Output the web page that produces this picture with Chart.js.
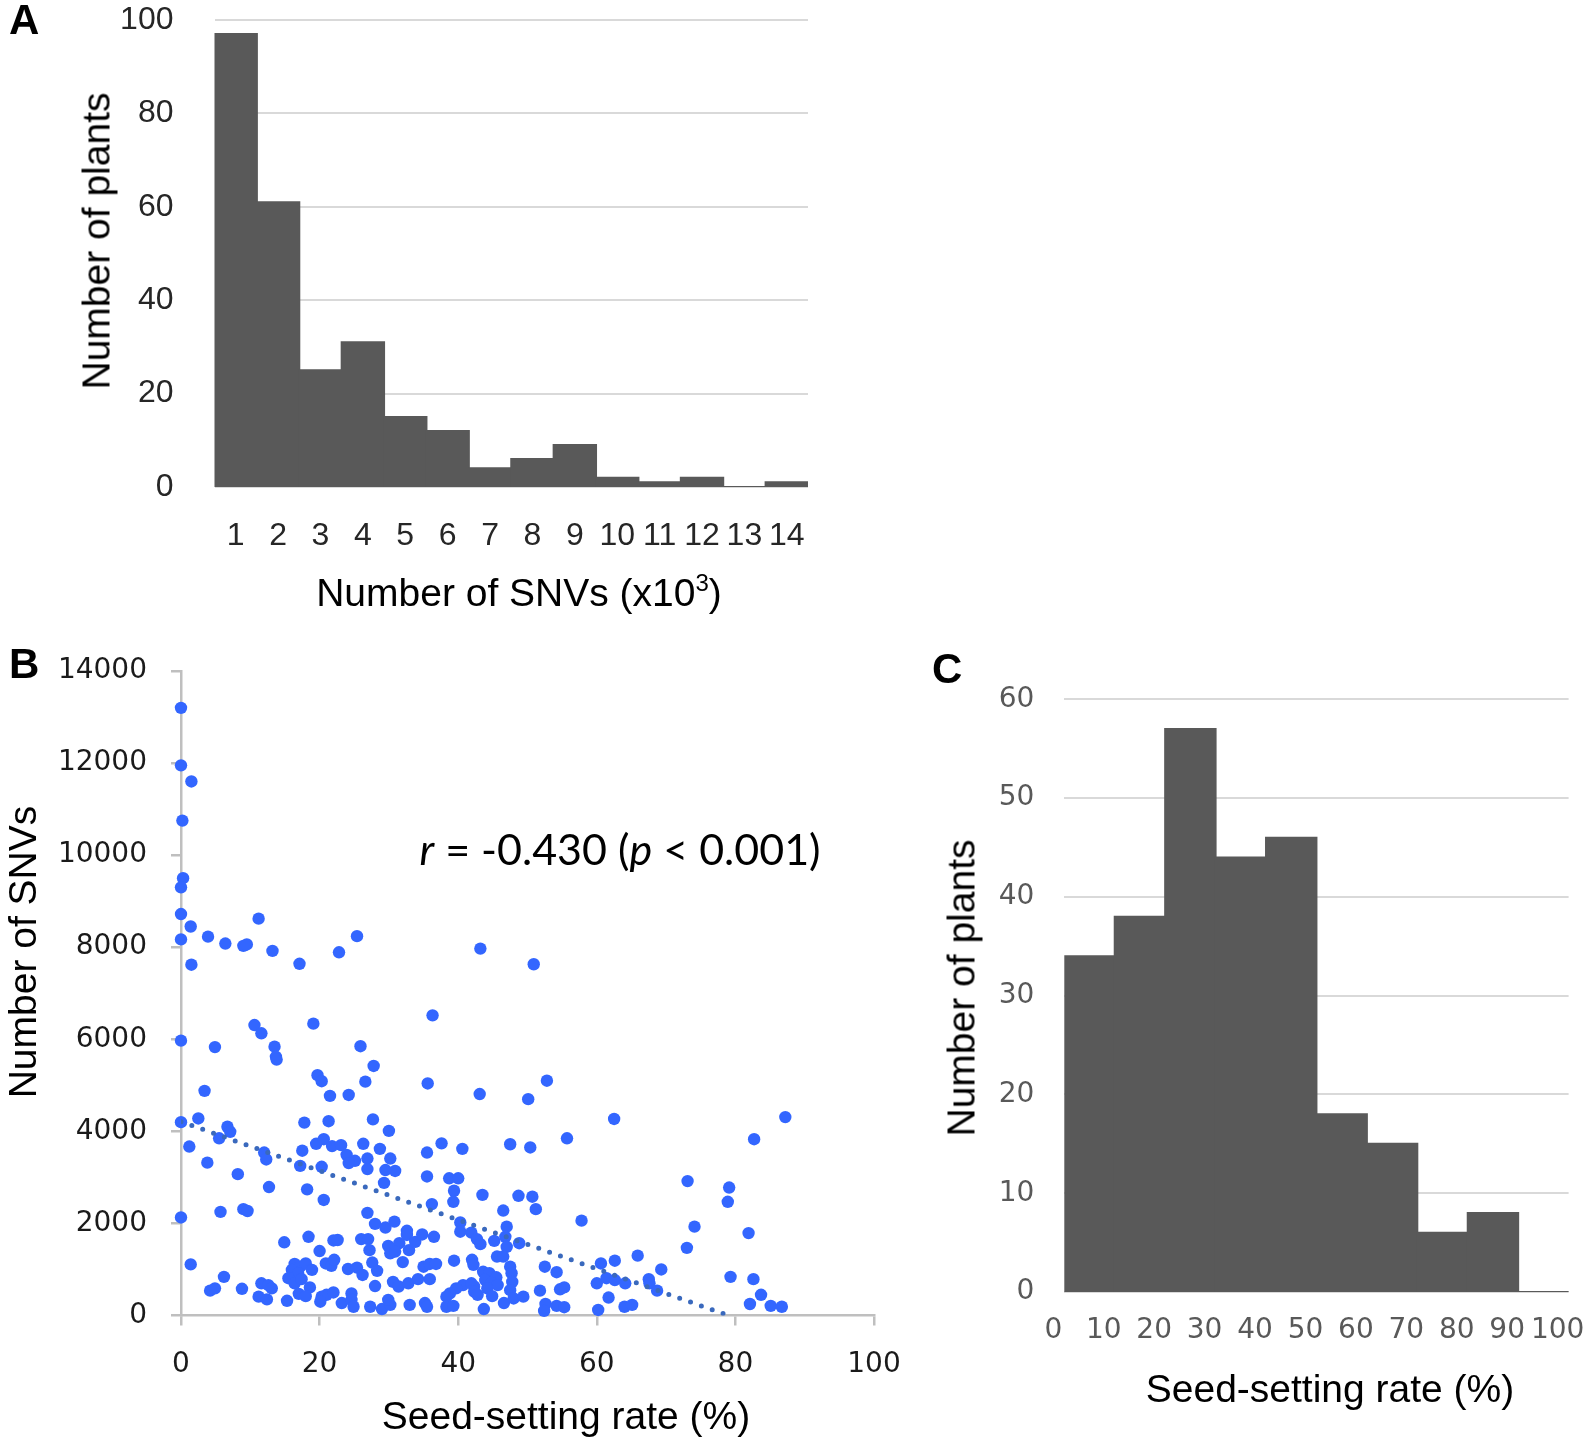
<!DOCTYPE html>
<html>
<head>
<meta charset="utf-8">
<title>SNVs and seed-setting rate</title>
<script src="https://cdn.jsdelivr.net/npm/chart.js@4.4.1/dist/chart.umd.min.js"></script>
<style>
  html, body { margin: 0; padding: 0; background: #fff; }
  #page { position: relative; width: 1594px; height: 1443px; overflow: hidden; font-family: "Liberation Sans", Arial, sans-serif; }
  canvas { position: absolute; }
  .lbl { position: absolute; white-space: nowrap; line-height: 1; color: #000; }
  .panel { font-weight: bold; font-size: 42px; }
  .title { font-size: 39px; transform: translate(-50%, -50%); }
  .vtitle { font-size: 39px; transform: translate(-50%, -50%) rotate(-90deg); }
  .title sup { font-size: 24px; vertical-align: 15px; line-height: 0; }
  .note { font-family: Lato, "Open Sans", sans-serif; font-size: 43px; transform: translate(-50%, -50%); }
</style>
</head>
<body>
<div id="page">
  <canvas id="chartA" width="830" height="620" style="left:0;top:0"></canvas>
  <canvas id="chartB" width="910" height="803" style="left:0;top:640px"></canvas>
  <canvas id="chartC" width="664" height="803" style="left:930px;top:640px"></canvas>

  <div class="lbl panel" style="left:9px;top:-1px">A</div>
  <div class="lbl panel" style="left:9px;top:643px">B</div>
  <div class="lbl panel" style="left:932px;top:648px">C</div>

  <div class="lbl title" style="left:519px;top:592px">Number of SNVs (x10<sup>3</sup>)</div>
  <div class="lbl vtitle" style="left:96px;top:241px">Number of plants</div>

  <div class="lbl title" style="left:566px;top:1415px">Seed-setting rate (%)</div>
  <div class="lbl vtitle" style="left:22px;top:952px">Number of SNVs</div>
  <div class="lbl note" style="left:620px;top:848px"><i>r</i> = -0.430 (<i>p</i> &lt; 0.001)</div>

  <div class="lbl title" style="left:1330px;top:1388px">Seed-setting rate (%)</div>
  <div class="lbl vtitle" style="left:961px;top:988px">Number of plants</div>
</div>

<script>
// Panel A: plants per bin of SNV count (x1000)
const snvBins = ['1', '2', '3', '4', '5', '6', '7', '8', '9', '10', '11', '12', '13', '14'];
const snvPlants = [97, 61, 25, 31, 15, 12, 4, 6, 9, 2, 1, 2, 0, 1];
const plantTicksA = [0, 20, 40, 60, 80, 100];

// Panel B: one entry per plant, seed-setting rate (%) and number of SNVs
const seedRate = [
    0, 0, 1.5, 0.2, 0.3, 0, 0, 1.4, 0, 11.2,
    3.9, 6.4, 9.0, 9.5, 13.2, 17.1, 22.8, 25.4, 1.5, 43.2,
    50.9, 36.3,
    0, 4.9, 10.6, 11.6, 13.5, 13.7, 13.8, 19.1, 25.9, 27.8,
    19.7, 20.3, 26.6, 3.4, 21.5, 24.2, 0, 2.5, 6.7, 7.1,
    5.5, 1.2, 3.8, 17.8, 21.3, 27.7, 30.0, 19.5, 20.6, 21.8,
    23.1, 26.3, 28.7, 23.9, 25.1, 24.2, 26.9, 26.9, 30.2, 29.5,
    30.9, 29.3, 17.5, 12.0, 12.3, 17.2, 20.3, 8.2, 12.7, 18.2,
    20.6, 0, 5.7, 9.0, 9.6, 26.9, 28.0, 29.5, 30.8, 32.6,
    32.6, 14.9, 18.4, 20.0, 22.0, 22.6, 26.0, 27.0, 27.2, 29.9,
    31.5, 30.2, 30.9, 32.9, 32.0, 1.4, 20.9, 21.7, 22.1, 24.1,
    25.4, 26.2, 27.6, 28.3, 33.8,
    6.2, 4.2, 4.9, 8.8, 11.6, 12.6, 13.1, 11.2, 12.4, 15.3,
    16.4, 17.2, 18.0, 16.0, 16.9, 18.9, 15.5, 16.4, 17.4, 18.6,
    17.0, 18.0, 20.3, 21.0, 22.0, 23.2, 20.1, 24.6, 24.6, 24.9,
    35.6, 43.1, 50.1, 37.6, 35.5, 40.6, 47.5, 50.4, 35.5, 38.7,
    40.0, 39.4, 39.3, 36.2, 43.5, 48.7, 46.5, 34.8, 36.5, 40.3,
    40.3, 41.9, 42.7, 43.2, 45.2, 47.0, 46.8, 47.0, 48.8, 39.4,
    42.0, 42.2, 45.6, 46.5, 47.5, 47.7, 47.8, 47.5, 43.6, 44.5,
    45.5, 43.9, 44.8, 45.7, 42.3, 44.2, 40.7, 41.9, 39.7, 38.8,
    38.3, 42.3, 42.8, 44.9, 43.7, 38.3, 39.3, 46.6, 48.0, 49.4,
    28.0, 30.6, 31.4, 32.8, 34.2, 35.0, 35.9, 36.8, 35.9, 27.3,
    29.0, 30.2, 29.9, 33.0, 35.2, 35.5,
    52.8, 62.5, 55.7, 50.7, 51.2, 57.8, 73.1, 74.1, 73.0, 52.5,
    54.2, 51.8, 54.7, 55.3, 52.6, 52.4, 54.2, 55.3, 60.6, 62.6,
    60.0, 61.4, 62.6, 64.1, 65.9, 61.7, 60.2, 64.0, 65.1, 67.5,
    67.6, 68.7, 69.3,
    87.2, 82.7, 79.1, 78.9, 81.9, 79.3, 82.6, 83.7, 82.1, 85.1,
    86.7
];
const snvCount = [
    13200, 11950, 11600, 10750, 9500, 9300, 8720, 8450, 8170, 8620,
    8230, 8080, 8030, 8060, 7920, 7640, 7890, 8240, 7620, 7970,
    7630, 6520,
    5970, 5830, 6310, 6130, 5840, 5620, 5560, 6340, 5850, 5420,
    5220, 5090, 5080, 4880, 4770, 4790, 4200, 4280, 4100, 3990,
    3850, 3670, 3320, 4190, 4220, 4260, 4010, 3730, 3830, 3680,
    3700, 3730, 3620, 3490, 3360, 3310, 3410, 3180, 3410, 3160,
    3140, 2880, 3580, 3540, 3390, 3250, 3230, 3070, 2790, 2740,
    2510, 2130, 2250, 2310, 2270, 2230, 1990, 1910, 2040, 1840,
    1750, 1590, 1710, 1400, 1630, 1640, 1660, 1660, 1420, 1510,
    1570, 1350, 1390, 1420, 1160, 1110, 1130, 1080, 1210, 1010,
    1040, 880, 1150, 970, 1600,
    840, 540, 590, 580, 700, 660, 590, 410, 350, 320,
    1120, 1060, 1130, 990, 920, 990, 810, 700, 790, 610,
    470, 420, 410, 450, 500, 270, 300, 480, 340, 190,
    5040, 4810, 4700, 3740, 3540, 3620, 3720, 3650, 3020, 2980,
    2980, 2710, 2470, 2420, 2620, 2600, 2280, 1760, 1710, 2020,
    1820, 1800, 1660, 1550, 1620, 1930, 1710, 1490, 1570, 1190,
    1210, 1100, 1280, 1280, 1060, 920, 730, 550, 950, 920,
    830, 770, 710, 660, 630, 590, 660, 700, 590, 480,
    410, 520, 450, 420, 140, 190, 210, 270, 370, 410,
    640, 730, 630, 700, 790, 1060, 1120, 1120, 790, 190,
    140, 230, 340, 230, 270, 190,
    5100, 4270, 3850, 2580, 2310, 2060, 2920, 1930, 1470, 1060,
    940, 540, 570, 610, 250, 100, 210, 180, 1130, 1190,
    700, 810, 770, 700, 1300, 390, 120, 190, 230, 790,
    700, 540, 1000,
    4310, 3830, 2780, 2470, 1790, 840, 790, 450, 250, 210,
    190
];
// linear trend line (ends where it meets the x axis)
const trendRate = [0, 79];
const trendSnv = [4210, 0];

// Panel C: plants per 10% bin of seed-setting rate
const rateTicks = [0, 10, 20, 30, 40, 50, 60, 70, 80, 90, 100];
const ratePlants = [34, 38, 57, 44, 46, 18, 15, 6, 8, 0];

const BAR_GREY = '#595959';
const GRID_GREY = '#d9d9d9';
const AXIS_GREY = '#bfbfbf';
const TICK_FONT = '"DejaVu Sans", Verdana, sans-serif';

Chart.defaults.font.family = '"Liberation Sans", Arial, sans-serif';

// force an axis box to a fixed size (and drop label overhang padding)
// so the plot areas line up with the figure
function clearPadding(scale) {
    scale.paddingTop = 0;
    scale.paddingBottom = 0;
    scale.paddingLeft = 0;
    scale.paddingRight = 0;
}
function fixWidth(w) {
    return scale => { scale.width = w; clearPadding(scale); };
}
function fixHeight(h) {
    return scale => { scale.height = h; clearPadding(scale); };
}
function tickList(values) {
    return scale => { scale.ticks = values.map(v => ({ value: v })); };
}

const noExtras = { legend: { display: false }, tooltip: { enabled: false } };

function drawPanelA() {
    const ctx = document.getElementById('chartA').getContext('2d');
    new Chart(ctx, {
        type: 'bar',
        data: {
            labels: snvBins,
            datasets: [{
                data: snvPlants,
                backgroundColor: BAR_GREY,
                borderWidth: 0,
                barPercentage: 1,
                categoryPercentage: 1,
                inflateAmount: 1
            }]
        },
        options: {
            responsive: false,
            animation: false,
            layout: { padding: { top: 20, right: 22, left: 0, bottom: 0 } },
            plugins: noExtras,
            scales: {
                x: {
                    grid: { display: false },
                    border: { display: false },
                    ticks: { color: '#262626', font: { size: 32 }, padding: 22, maxRotation: 0, minRotation: 0, autoSkip: false },
                    afterFit: fixHeight(133)
                },
                y: {
                    min: 0,
                    max: 100,
                    afterBuildTicks: tickList(plantTicksA),
                    grid: { color: GRID_GREY, lineWidth: 2, drawTicks: false },
                    border: { display: false },
                    ticks: { color: '#262626', font: { size: 32 }, padding: 41 },
                    afterFit: fixWidth(214.5)
                }
            }
        }
    });
}

function drawPanelB() {
    const ctx = document.getElementById('chartB').getContext('2d');
    const points = seedRate.map((r, i) => ({ x: r, y: snvCount[i] }));
    const trend = trendRate.map((r, i) => ({ x: r, y: trendSnv[i] }));
    const plain = v => String(v);

    new Chart(ctx, {
        type: 'scatter',
        data: {
            datasets: [
                {
                    type: 'line',
                    data: trend,
                    borderColor: '#3a69bd',
                    borderWidth: 5,
                    borderDash: [0, 11.5],
                    borderCapStyle: 'round',
                    pointRadius: 0,
                    fill: false
                },
                {
                    data: points,
                    backgroundColor: '#3366ff',
                    pointRadius: 6.2,
                    pointBorderWidth: 0,
                    clip: false
                }
            ]
        },
        options: {
            responsive: false,
            animation: false,
            layout: { padding: { top: 31, right: 36, left: 0, bottom: 0 } },
            plugins: noExtras,
            scales: {
                x: {
                    type: 'linear',
                    min: 0,
                    max: 100,
                    ticks: { stepSize: 20, color: '#1a1a1a', font: { family: TICK_FONT, size: 28 }, padding: 22, maxRotation: 0, callback: plain },
                    grid: { drawOnChartArea: false, drawTicks: true, tickLength: 10, color: AXIS_GREY, lineWidth: 2.5 },
                    border: { color: AXIS_GREY, width: 2.5 },
                    afterFit: fixHeight(127.5)
                },
                y: {
                    min: 0,
                    max: 14000,
                    ticks: { stepSize: 2000, color: '#1a1a1a', font: { family: TICK_FONT, size: 28 }, padding: 24, callback: plain },
                    grid: { drawOnChartArea: false, drawTicks: true, tickLength: 10, color: AXIS_GREY, lineWidth: 2.5 },
                    border: { color: AXIS_GREY, width: 2.5 },
                    afterFit: fixWidth(181)
                }
            }
        }
    });
}

function drawPanelC() {
    const ctx = document.getElementById('chartC').getContext('2d');
    // each bar sits in the middle of its 10% bin
    const bars = ratePlants.map((n, i) => ({ x: (rateTicks[i] + rateTicks[i + 1]) / 2, y: n }));

    new Chart(ctx, {
        type: 'bar',
        data: {
            datasets: [{
                data: bars,
                backgroundColor: BAR_GREY,
                borderWidth: 0,
                barPercentage: 1,
                categoryPercentage: 1,
                inflateAmount: 1
            }]
        },
        options: {
            responsive: false,
            animation: false,
            layout: { padding: { top: 59.4, right: 25.4, left: 0, bottom: 0 } },
            plugins: noExtras,
            scales: {
                x: {
                    type: 'linear',
                    offset: false,
                    min: 0,
                    max: 100,
                    afterBuildTicks: tickList(rateTicks),
                    grid: { display: false, offset: false },
                    border: { display: false },
                    ticks: { color: '#595959', font: { family: TICK_FONT, size: 28 }, padding: 14, labelOffset: -11, maxRotation: 0, minRotation: 0, autoSkip: false },
                    afterFit: fixHeight(151)
                },
                y: {
                    min: 0,
                    max: 60,
                    ticks: { stepSize: 10, color: '#595959', font: { family: TICK_FONT, size: 28 }, padding: 30 },
                    grid: { color: GRID_GREY, lineWidth: 2, drawTicks: false },
                    border: { display: false },
                    afterFit: fixWidth(134.3)
                }
            }
        }
    });
}

drawPanelA();
drawPanelB();
drawPanelC();
</script>
</body>
</html>
